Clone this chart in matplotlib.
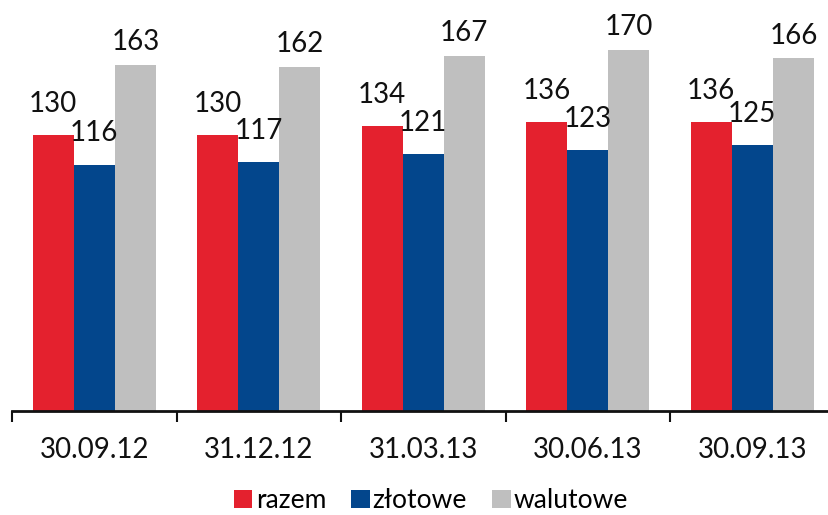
import matplotlib
matplotlib.use("Agg")
import matplotlib.pyplot as plt
import numpy as np

plt.rcParams['font.family'] = ['Lato', 'DejaVu Sans']

categories = ["30.09.12", "31.12.12", "31.03.13", "30.06.13", "30.09.13"]
razem = [130, 130, 134, 136, 136]
zlotowe = [116, 117, 121, 123, 125]
walutowe = [163, 162, 167, 170, 166]
series_names = ["razem", "złotowe", "walutowe"]

colors = ["#E4212E", "#03468C", "#BFBFBF"]
label_gap = [13, 13, 7]   # points between bar top and its value label

W, H = 829, 515
fig = plt.figure(figsize=(W / 100, H / 100), dpi=100)
ax = fig.add_axes([12 / W, 104 / H, 5 * 164.5 / W, 190 * 2.125 / H])

x = np.arange(len(categories))
width = 0.25
for i, (vals, name) in enumerate(zip([razem, zlotowe, walutowe], series_names)):
    pos = x + (i - 1) * width
    bars = ax.bar(pos, vals, width=width, color=colors[i], label=name,
                  edgecolor='none')
    for b, v in zip(bars, vals):
        ax.annotate(f"{v}", (b.get_x() + b.get_width() / 2, v),
                    xytext=(0, label_gap[i]), textcoords="offset points",
                    ha='center', va='bottom', fontsize=20, color='#111111')

ax.set_xlim(-0.5, len(categories) - 0.5)
ax.set_ylim(0, 190)
ax.set_yticks([])
for s in ['top', 'right', 'left']:
    ax.spines[s].set_visible(False)
ax.spines['bottom'].set_linewidth(2)
ax.spines['bottom'].set_color('#111111')

ax.set_xticks(np.arange(len(categories) + 1) - 0.5, minor=False)
ax.set_xticklabels([])
ax.tick_params(axis='x', which='major', length=8, width=1.5, color='#111111')
ax.set_xticks(x, minor=True)
ax.set_xticklabels(categories, minor=True, fontsize=20, color='#111111')
ax.tick_params(axis='x', which='minor', length=0, pad=19)

leg = fig.legend(loc='lower center', bbox_to_anchor=(0.52, -0.043), ncol=3,
                 frameon=False, fontsize=19, handlelength=0.7,
                 handleheight=0.7, handletextpad=0.12, columnspacing=0.95)

fig.savefig("out.png", dpi=100)
